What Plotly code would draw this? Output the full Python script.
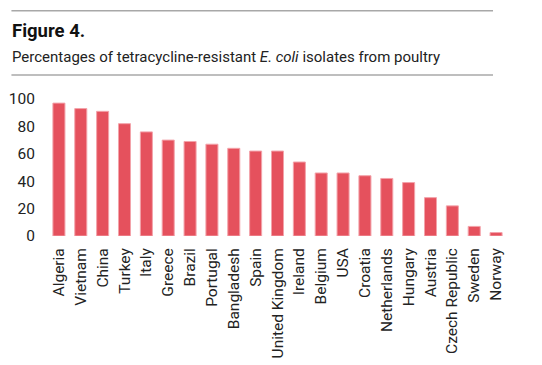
import plotly.graph_objects as go

countries = ["Algeria", "Vietnam", "China", "Turkey", "Italy", "Greece", "Brazil",
             "Portugal", "Bangladesh", "Spain", "United Kingdom", "Ireland", "Belgium",
             "USA", "Croatia", "Netherlands", "Hungary", "Austria", "Czech Republic",
             "Sweden", "Norway"]
percent = [97, 93, 91, 82, 76, 70, 69, 67, 64, 62, 62, 54, 46, 46, 44, 42, 39, 28, 22, 7, 2.5]
y_ticks = [0, 20, 40, 60, 80, 100]

# page body adds an 8px offset; work in reference pixel coords minus 8
OFF = 8
W, H = 542 - OFF, 365 - OFF
L, R = 47.6 - OFF, 507.0 - OFF
T, B = 99.0 - OFF, 235.7 - OFF

def px(x):
    return (x - OFF - L) / (R - L)

def py(y):
    return (B - (y - OFF)) / (B - T)

FONT = "Roboto"

fig = go.Figure(go.Bar(
    x=countries, y=percent,
    marker=dict(color="#E5515D", line=dict(color="#F3A3AA", width=1)),
    width=0.55,
))

fig.update_layout(
    template="none",
    width=W, height=H,
    margin=dict(l=L, r=W - R, t=T, b=H - B, pad=0, autoexpand=False),
    paper_bgcolor="white", plot_bgcolor="white",
    showlegend=False,
    font=dict(family=FONT, color="#222222"),
    xaxis=dict(tickangle=-90, tickfont=dict(size=15.5, family=FONT, color="#222222"),
               showgrid=False, showline=False, zeroline=False, ticks="outside", ticklen=5,
               tickcolor="rgba(0,0,0,0)", automargin=False, fixedrange=True),
    yaxis=dict(range=[0, 100], tickvals=y_ticks, showgrid=False, zeroline=False, showline=False,
               tickfont=dict(size=15.5, family=FONT, color="#222222"),
               ticks="outside", ticklen=9, tickcolor="rgba(0,0,0,0)", automargin=False,
               fixedrange=True),
    shapes=[
        dict(type="line", xref="paper", yref="paper", x0=px(11), x1=px(493), y0=py(11), y1=py(11),
             line=dict(color="#A8A8A8", width=1.5)),
        dict(type="line", xref="paper", yref="paper", x0=px(11), x1=px(493), y0=py(75), y1=py(75),
             line=dict(color="#A8A8A8", width=1.5)),
    ],
    annotations=[
        dict(text="<b>Figure 4.</b>", xref="paper", yref="paper", x=px(10), y=py(31),
             xanchor="left", yanchor="middle", showarrow=False,
             font=dict(size=18.5, family=FONT, color="#111111")),
        dict(text="Percentages of tetracycline-resistant <i>E. coli</i> isolates from poultry",
             xref="paper", yref="paper", x=px(10), y=py(57),
             xanchor="left", yanchor="middle", showarrow=False,
             font=dict(size=15, family=FONT, color="#222222")),
    ],
)

fig.write_html("out.html")
